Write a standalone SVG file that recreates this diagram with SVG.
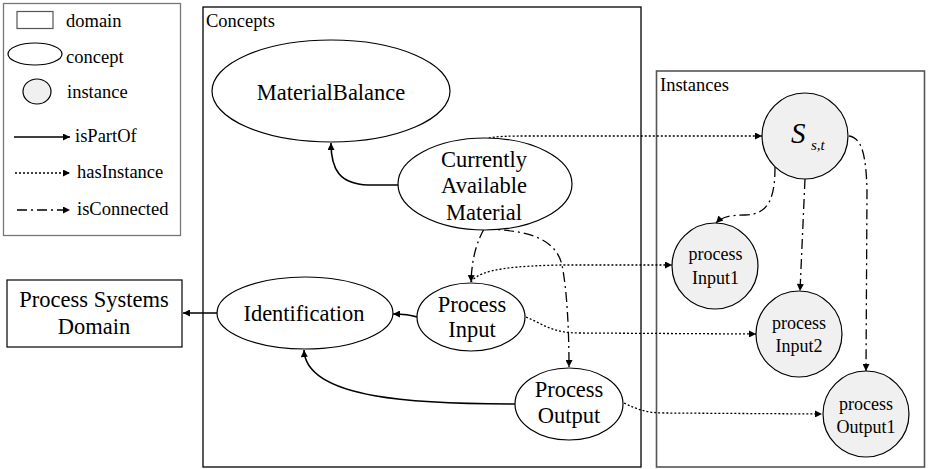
<svg xmlns="http://www.w3.org/2000/svg" width="928" height="469" viewBox="0 0 928 469">
  <defs>
    <marker id="arrow" viewBox="0 0 10 10" refX="10" refY="5" markerWidth="9" markerHeight="7" markerUnits="userSpaceOnUse" orient="auto">
      <path d="M0,0 L10,5 L0,10 z" fill="#000"/>
    </marker>
    <style>
      text { font-family: 'Liberation Serif', 'Times New Roman', serif; fill: #000; }
      .lbl { font-size: 22.5px; text-anchor: middle; }
      .small { font-size: 18.5px; }
      .inst-txt { font-size: 18px; text-anchor: middle; }
      .concept { fill: #fff; stroke: #000; stroke-width: 1.2; }
      .instance { fill: #f0f0f0; stroke: #000; stroke-width: 1.2; }
      .domain { fill: #fff; stroke: #000; stroke-width: 1.2; }
      .part { fill: none; stroke: #000; stroke-width: 1.6; marker-end: url(#arrow); }
      .has { fill: none; stroke: #000; stroke-width: 1.3; stroke-dasharray: 2 2; marker-end: url(#arrow); }
      .conn { fill: none; stroke: #000; stroke-width: 1.3; stroke-dasharray: 10 4 2 4; marker-end: url(#arrow); }
    </style>
  </defs>

  <!-- legend -->
  <g id="legend">
    <rect x="3.5" y="3.5" width="177" height="232" fill="#fff" stroke="#777" stroke-width="1.3"/>
    <rect x="17" y="11.5" width="36" height="17" fill="#fff" stroke="#555" stroke-width="1.2"/>
    <ellipse cx="35" cy="54" rx="27" ry="11" class="concept"/>
    <ellipse cx="37" cy="91.5" rx="14" ry="12.5" class="instance"/>
    <line x1="14" y1="137" x2="70" y2="137" class="part"/>
    <line x1="15" y1="173" x2="70" y2="173" class="has"/>
    <line x1="17" y1="210" x2="70" y2="210" class="conn" stroke-dasharray="2 5 16 5 2 5"/>
    <text class="small" x="66" y="27">domain</text>
    <text class="small" x="66" y="63">concept</text>
    <text class="small" x="67" y="98">instance</text>
    <text class="small" x="75" y="142">isPartOf</text>
    <text class="small" x="77" y="178">hasInstance</text>
    <text class="small" x="77" y="215">isConnected</text>
  </g>

  <!-- containers -->
  <g id="concepts-box">
    <rect x="203" y="7" width="438" height="460" fill="none" stroke="#000" stroke-width="1.3"/>
    <text class="small" x="206" y="27">Concepts</text>
  </g>
  <g id="instances-box">
    <rect x="656.5" y="71" width="268" height="396" fill="none" stroke="#555" stroke-width="1.6"/>
    <text class="small" x="660" y="91">Instances</text>
  </g>

  <!-- connectors -->
  <g id="connectors">
    <!-- isPartOf -->
    <path class="part" d="M398,185 L368,185 C340,184 331,170 331,143"/>
    <path class="part" d="M217,313 L183,313"/>
    <path class="part" d="M417,317 C408,314 402,314 393,314"/>
    <path class="part" d="M516,404 C420,404 306,400 304,350"/>
    <!-- hasInstance -->
    <path class="has" d="M485,139 C495,136 510,136 530,136 L762,136"/>
    <path class="has" d="M471,282 C480,268 520,266 560,265 L672,265"/>
    <path class="has" d="M526,317 C545,325 552,333 580,333 L756,334"/>
    <path class="has" d="M624,403 C638,410 648,413 665,413 L822,414"/>
    <!-- isConnected -->
    <path class="conn" d="M484,229 C478,240 472,255 471,282"/>
    <path class="conn" d="M484,229 C520,230 555,235 562,265 C567,290 569,330 569,367"/>
    <path class="conn" d="M775,167 C775,195 770,215 745,215 C730,215 722,217 716,223"/>
    <path class="conn" d="M805,179 L800,291"/>
    <path class="conn" d="M849,136 C862,138 866,155 867,190 L866,371"/>
  </g>

  <!-- concept nodes -->
  <g id="material-balance">
    <ellipse cx="331" cy="91" rx="119" ry="51" class="concept"/>
    <text class="lbl" x="331" y="100">MaterialBalance</text>
  </g>
  <g id="currently-available-material">
    <ellipse cx="485" cy="184" rx="87" ry="46" class="concept"/>
    <text class="lbl" x="484" y="167">Currently</text>
    <text class="lbl" x="484" y="193">Available</text>
    <text class="lbl" x="484" y="220">Material</text>
  </g>
  <g id="identification">
    <ellipse cx="305" cy="313" rx="88" ry="36" class="concept"/>
    <text class="lbl" x="304" y="321">Identification</text>
  </g>
  <g id="process-input">
    <ellipse cx="471" cy="317" rx="54" ry="34" class="concept"/>
    <text class="lbl" x="472" y="312">Process</text>
    <text class="lbl" x="472" y="337">Input</text>
  </g>
  <g id="process-output">
    <ellipse cx="569" cy="404" rx="54" ry="36" class="concept"/>
    <text class="lbl" x="569" y="397">Process</text>
    <text class="lbl" x="569" y="423">Output</text>
  </g>

  <!-- domain node -->
  <g id="process-systems-domain">
    <rect x="7" y="280" width="175" height="67" class="domain"/>
    <text class="lbl" x="94" y="307">Process Systems</text>
    <text class="lbl" x="94" y="334">Domain</text>
  </g>

  <!-- instance nodes -->
  <g id="s-st">
    <circle cx="805" cy="136" r="43" class="instance"/>
    <text x="791" y="143" font-size="29" font-style="italic">S</text>
    <text x="811" y="150" font-size="15" font-style="italic">s,t</text>
  </g>
  <g id="process-input1">
    <circle cx="715" cy="266" r="43" class="instance"/>
    <text class="inst-txt" x="715.5" y="260">process</text>
    <text class="inst-txt" x="715.5" y="284">Input1</text>
  </g>
  <g id="process-input2">
    <circle cx="799" cy="334" r="43" class="instance"/>
    <text class="inst-txt" x="799" y="329">process</text>
    <text class="inst-txt" x="799" y="352">Input2</text>
  </g>
  <g id="process-output1">
    <circle cx="866" cy="414" r="43" class="instance"/>
    <text class="inst-txt" x="866" y="410">process</text>
    <text class="inst-txt" x="866" y="433">Output1</text>
  </g>
</svg>
